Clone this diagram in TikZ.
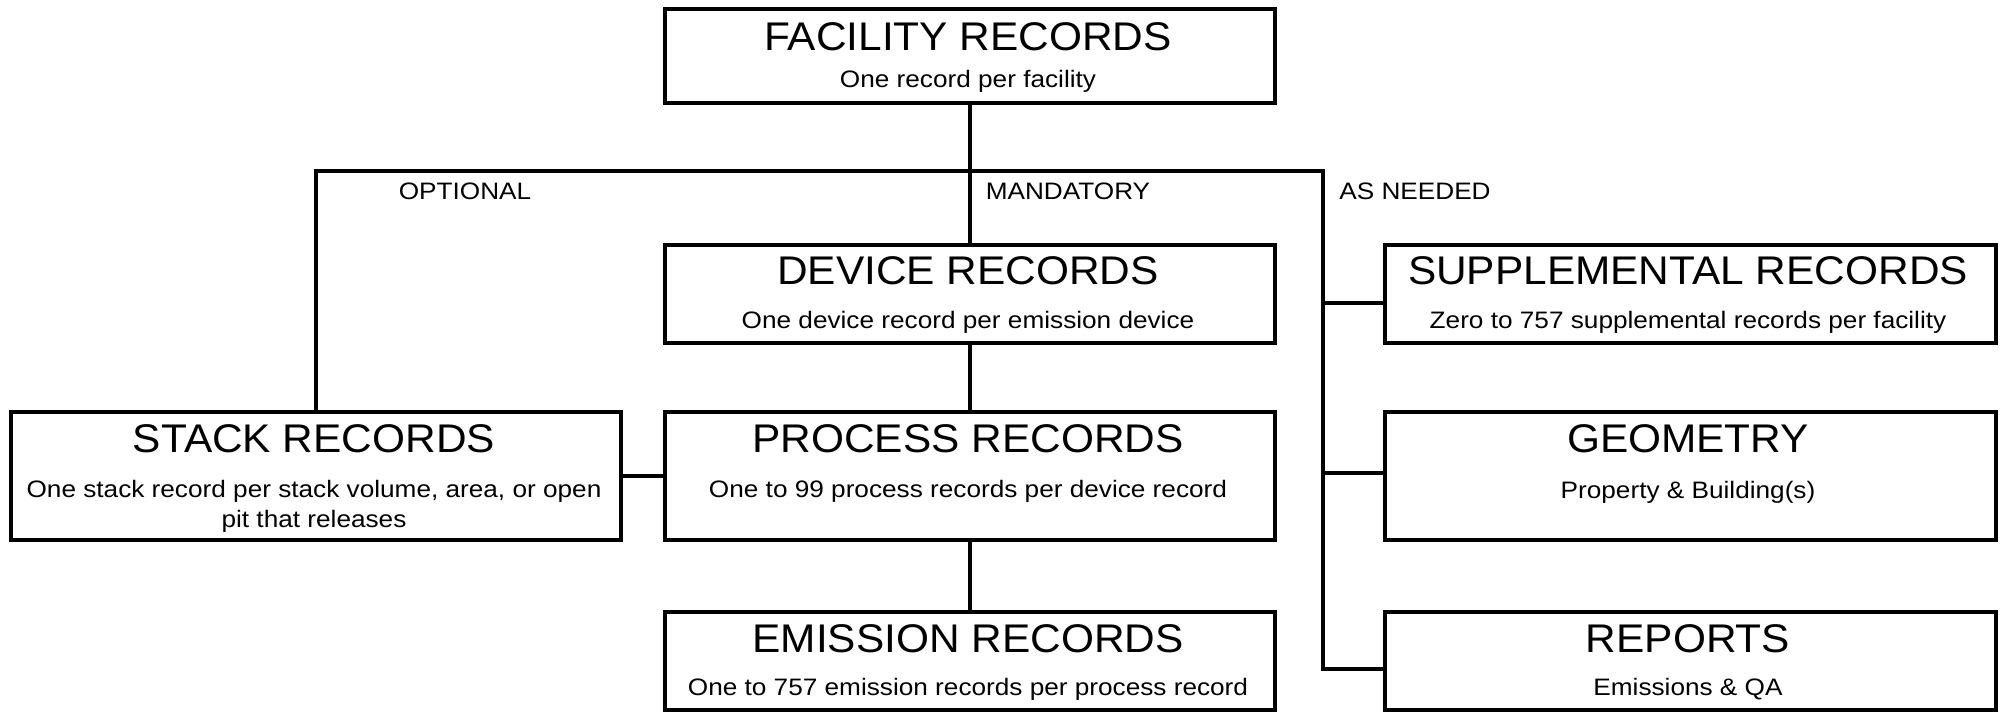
\documentclass[tikz,border=0pt]{standalone}
\usepackage{fontspec}
\setmainfont{Liberation Sans}
\newfontfamily\widefont[FakeStretch=1.1]{Liberation Sans}
\newfontfamily\titlefont[FakeStretch=1.06]{Liberation Sans}
\usetikzlibrary{calc}
\tikzset{
  recbox/.style={draw=black, line width=3.8pt, minimum width=610pt, anchor=north west, inner sep=0pt},
  ttl/.style={font=\titlefont\fontsize{40}{44}\selectfont, anchor=base, inner sep=0pt},
  sub/.style={font=\widefont\fontsize{23.8}{30}\selectfont, anchor=base, inner sep=0pt},
  lbl/.style={font=\widefont\fontsize{23.8}{30}\selectfont, anchor=base, inner sep=0pt},
  conn/.style={draw=black, line width=3.8pt}
}
\begin{document}
\begin{tikzpicture}[x=1pt, y=-1pt]
\useasboundingbox (0,0) rectangle (2002,712);
% boxes
\node[recbox, minimum height=94pt] (fac) at (663,7) {};
\node[recbox, minimum height=98pt] (dev) at (663,243) {};
\node[recbox, minimum height=128pt] (proc) at (663,410) {};
\node[recbox, minimum height=128pt] (stack) at (9,410) {};
\node[recbox, minimum height=98pt] (emis) at (663,610) {};
\node[recbox, minimum width=611pt, minimum height=98pt] (supp) at (1383,243) {};
\node[recbox, minimum width=611pt, minimum height=128pt] (geo) at (1383,410) {};
\node[recbox, minimum width=611pt, minimum height=98pt] (rep) at (1383,610) {};
% texts
\node[ttl] (facT) at (968,50) {FACILITY RECORDS};
\node[sub] (facS) at (968,87) {One record per facility};
\node[ttl] (devT) at (968,284) {DEVICE RECORDS};
\node[sub] (devS) at (968,328) {One device record per emission device};
\node[ttl] (procT) at (968,452) {PROCESS RECORDS};
\node[sub] (procS) at (968,497) {One to 99 process records per device record};
\node[ttl] (stackT) at (314,452) {STACK RECORDS};
\node[sub] (stackS) at (314,497) {One stack record per stack volume, area, or open};
\node[sub] (stackS2) at (314,527) {pit that releases};
\node[ttl] (emisT) at (968,652) {EMISSION RECORDS};
\node[sub] (emisS) at (968,695) {One to 757 emission records per process record};
\node[ttl] (suppT) at (1688,284) {SUPPLEMENTAL RECORDS};
\node[sub] (suppS) at (1688,328) {Zero to 757 supplemental records per facility};
\node[ttl] (geoT) at (1688,452) {GEOMETRY};
\node[sub] (geoS) at (1688,498) {Property \& Building(s)};
\node[ttl] (repT) at (1688,652) {REPORTS};
\node[sub] (repS) at (1688,695) {Emissions \& QA};
% labels
\node[lbl] (opt) at (465,199) {OPTIONAL};
\node[lbl] (man) at (1068,199) {MANDATORY};
\node[lbl] (asn) at (1415,199) {AS NEEDED};
% connectors
\coordinate (busR) at (1323,171);
\coordinate (suppJ) at ($(supp.north west)!0.59!(supp.south west)$);
\coordinate (geoJ) at ($(geo.north west)!0.48!(geo.south west)$);
\coordinate (repJ) at ($(rep.north west)!0.58!(rep.south west)$);
\draw[conn] (fac.south) -- (dev.north);
\draw[conn] (dev.south) -- (proc.north);
\draw[conn] (proc.south) -- (emis.north);
\draw[conn] (stack.east) -- (proc.west);
\draw[conn] (stack.north) |- (busR) |- (repJ);
\draw[conn] (suppJ -| busR) -- (suppJ);
\draw[conn] (geoJ -| busR) -- (geoJ);
\end{tikzpicture}
\end{document}
